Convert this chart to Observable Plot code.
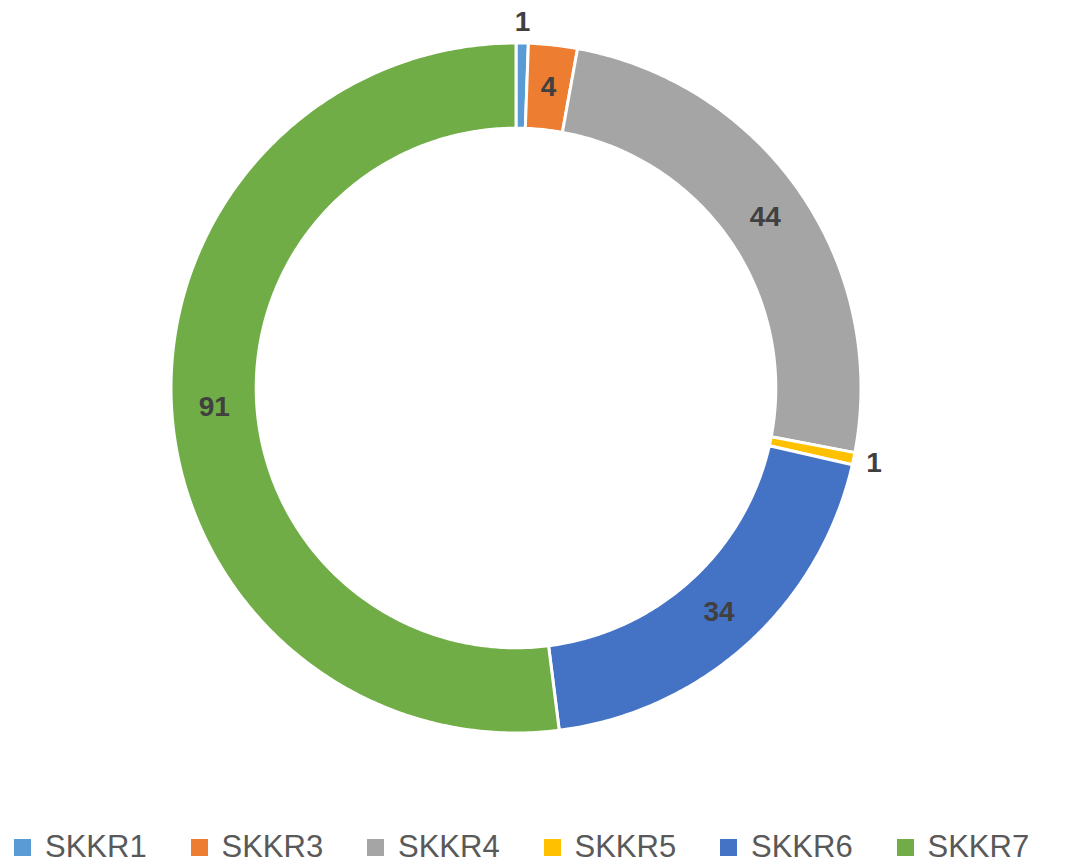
<!DOCTYPE html>
<html>
<head>
<meta charset="utf-8">
<script src="https://cdn.jsdelivr.net/npm/d3@7"></script>
<script src="https://cdn.jsdelivr.net/npm/@observablehq/plot@0.6"></script>
<style>
  html, body { margin: 0; padding: 0; background: #fff; }
  #wrap { position: relative; width: 1069px; height: 865px; overflow: hidden; }
  #legend { position: absolute; left: 14px; top: 828px; display: flex; font-family: "Liberation Sans", Arial, sans-serif; font-size: 31px; color: #595959; line-height: 38px; }
  .item { display: flex; align-items: center; width: 176.5px; white-space: nowrap; }
  .sw { width: 17px; height: 17px; margin-right: 14px; flex: none; }
</style>
</head>
<body>
<div id="wrap">
  <div id="chart"></div>
  <div id="legend"></div>
</div>
<script>
const categories = ["SKKR1", "SKKR3", "SKKR4", "SKKR5", "SKKR6", "SKKR7"];
const values = [1, 4, 44, 1, 34, 91];
const colors = ["#5B9BD5", "#ED7D31", "#A5A5A5", "#FFC000", "#4472C4", "#70AD47"];

const W = 1069, H = 790;
const R = 345, cx = 515.5, cy = 387.5;
const innerRatio = 0.753;

const total = d3.sum(values);
const pie = d3.pie().sort(null).value(d => d.value)(categories.map((name, i) => ({name, value: values[i]})));

// polygon points for each slice (angles clockwise from 12 o'clock)
const pts = [];
for (const s of pie) {
  const a0 = s.startAngle, a1 = s.endAngle;
  const n = Math.max(2, Math.ceil((a1 - a0) / 0.01));
  for (let k = 0; k <= n; k++) {
    const a = a0 + (a1 - a0) * k / n;
    pts.push({name: s.data.name, x: Math.sin(a), y: Math.cos(a)});
  }
  for (let k = n; k >= 0; k--) {
    const a = a0 + (a1 - a0) * k / n;
    pts.push({name: s.data.name, x: innerRatio * Math.sin(a), y: innerRatio * Math.cos(a)});
  }
}

const labels = pie.map(s => {
  const a = (s.startAngle + s.endAngle) / 2;
  const outside = s.data.value / total < 0.02;
  const r = outside ? 1.06 : (1 + innerRatio) / 2;
  return {name: s.data.name, value: s.data.value, x: r * Math.sin(a), y: r * Math.cos(a), outside};
});

const chart = Plot.plot({
  width: W,
  height: H,
  margin: 0,
  x: {domain: [-cx / R, (W - cx) / R], axis: null},
  y: {domain: [-(H - cy) / R, cy / R], axis: null},
  color: {domain: categories, range: colors},
  style: {background: "#fff"},
  marks: [
    Plot.line(pts, {x: "x", y: "y", z: "name", fill: "name", stroke: "#fff", strokeWidth: 3, curve: "linear-closed"}),
    Plot.text(labels, {x: "x", y: "y", text: d => String(d.value), fill: "#404040", fontSize: 28, fontWeight: "bold", fontFamily: "Liberation Sans, Arial, sans-serif"})
  ]
});
document.getElementById("chart").appendChild(chart);

const legend = document.getElementById("legend");
categories.forEach((c, i) => {
  const it = document.createElement("div");
  it.className = "item";
  const sw = document.createElement("span");
  sw.className = "sw";
  sw.style.background = colors[i];
  const t = document.createElement("span");
  t.textContent = c;
  it.appendChild(sw); it.appendChild(t);
  legend.appendChild(it);
});
</script>
</body>
</html>
